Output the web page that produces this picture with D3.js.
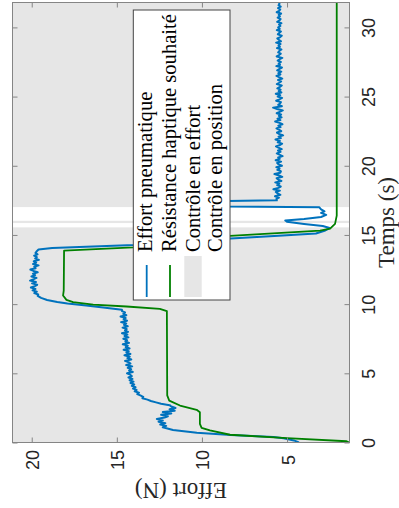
<!DOCTYPE html>
<html><head><meta charset="utf-8">
<script src="https://cdn.jsdelivr.net/npm/d3@7"></script>
<style>body{margin:0;background:#fff} svg{display:block}</style>
</head><body>
<script>
// ---------- data ----------
const timeTicks = [0, 5, 10, 15, 20, 25, 30];
const effortTicks = [5, 10, 15, 20];
const legendLabels = ["Effort pneumatique", "Résistance haptique souhaité", "Contrôle en effort", "Contrôle en position"];
const xLabel = "Temps (s)";
const yLabel = "Effort (N)";
const timeDomain = [0, 31.8];
const effortDomain = [1.33, 21.13];

// control mode intervals (s)
const effortControl = [[0, 15.56], [15.85, 16.04], [17.0, 31.8]];
const positionControl = [[15.56, 15.85], [16.04, 17.0]];

// desired haptic resistance (green)
const greenT = [0, 0.09, 0.31, 0.56, 0.87, 1.06, 1.35, 2.19, 2.36, 2.67, 3.03, 3.4, 9.5, 9.66, 9.83, 9.97, 10.14, 10.31, 10.62, 10.98, 13.87, 14.1, 14.5, 14.93, 15.32, 15.46, 15.8, 16.4, 31.8];
const greenE = [1.35, 1.5, 5.0, 8.35, 9.53, 10.02, 10.12, 10.12, 10.31, 11.29, 11.92, 12.04, 12.06, 12.47, 14.43, 16.39, 17.57, 17.96, 18.16, 18.12, 18.1, 14.04, 11.2, 8.35, 3.06, 2.47, 2.18, 2.08, 2.08];

// pneumatic effort (blue), sampled every 0.1 s on plateaus
const sampleStep = 0.1;
const blueRiseT = [0, 0.15, 0.3, 0.4, 0.54, 0.71, 0.9, 1.1, 1.2, 1.3, 1.4, 1.5, 1.6, 1.7, 1.8, 1.9, 2.0, 2.1, 2.2, 2.3, 2.4, 2.5, 2.6, 2.7, 2.8, 2.9, 3.0, 3.1, 3.2, 3.3];
const blueRiseE = [4.3, 4.6, 5.2, 5.8, 8.3, 10.3, 11.7, 12.3, 12.1, 12.45, 12.15, 12.55, 12.3, 12.65, 12.2, 12.0, 12.4, 11.8, 12.3, 11.6, 11.9, 11.55, 11.8, 11.9, 12.4, 12.7, 13.0, 13.2, 13.5, 13.45];
const blueHold1Start = 3.4;
const blueHold1E = [
  13.62, 13.80, 13.70, 13.95, 13.84, 14.05, 13.90, 14.12, 13.98, 14.20,
  14.02, 14.25, 14.08, 14.32, 14.12, 14.22, 14.40, 14.06, 14.28, 14.16,
  14.36, 14.10, 14.45, 14.20, 14.30, 14.52, 14.15, 14.38, 14.24, 14.55,
  14.20, 14.44, 14.30, 14.60, 14.25, 14.48, 14.36, 14.65, 14.28, 14.50,
  14.40, 14.62, 14.32, 14.55, 14.38, 14.70, 14.34, 14.52, 14.42, 14.66,
  14.36, 14.58, 14.45, 14.75, 14.40, 14.60, 14.48, 14.78, 14.44, 14.62,
  14.52, 14.70];
const blueStep2T = [9.6, 9.75, 9.9, 10.05, 10.15, 10.3, 10.45, 10.6];
const blueStep2E = [14.7, 15.8, 16.8, 17.9, 18.5, 19.1, 19.45, 19.65];
const blueHold2Start = 10.7;
const blueHold2E = [
  19.62, 19.85, 19.70, 19.95, 19.78, 20.05, 19.82, 19.68, 19.98, 19.75,
  20.10, 19.88, 19.72, 20.02, 19.80, 19.93, 19.65, 19.90, 20.08, 19.77,
  19.85, 19.60, 19.92, 19.74, 19.88, 19.58, 19.80, 19.70, 19.86, 19.66,
  19.78, 19.72];
const blueDropT = [13.95, 14.05, 14.15, 14.27, 14.5, 14.75, 14.95, 15.1, 15.3, 15.5, 15.65, 15.8, 15.95, 16.05, 16.15, 16.3, 16.45, 16.6, 16.7, 16.85, 17.0, 17.05, 17.15, 17.3, 17.45, 17.5];
const blueDropE = [19.6, 18.8, 16.8, 14.0, 11.0, 8.3, 5.5, 3.3, 2.8, 2.5, 2.9, 4.0, 5.0, 5.1, 4.0, 3.0, 2.7, 3.0, 2.8, 3.0, 3.1, 8.5, 10.5, 10.5, 8.5, 5.6];
const blueHold3Start = 17.6;
const blueHold3E = [
  5.62, 5.48, 5.71, 5.39, 5.55, 5.66, 5.42, 5.80, 5.51, 5.37,
  5.58, 5.45, 5.69, 5.33, 5.52, 5.61, 5.28, 5.47, 5.74, 5.40,
  5.36, 5.57, 5.44, 5.63, 5.30, 5.49, 5.58, 5.35, 5.67, 5.43,
  5.52, 5.26, 5.45, 5.60, 5.38, 5.53, 5.31, 5.48, 5.65, 5.41,
  5.29, 5.55, 5.42, 5.68, 5.36, 5.50, 5.23, 5.47, 5.59, 5.34,
  5.46, 5.62, 5.38, 5.51, 5.27, 5.44, 5.70, 5.39, 5.56, 5.32,
  5.48, 5.35, 5.61, 5.43, 5.25, 5.58, 5.82, 5.30, 5.52, 5.41,
  5.36, 5.64, 5.45, 5.29, 5.55, 5.40, 5.66, 5.33, 5.49, 5.38,
  5.57, 5.42, 5.31, 5.60, 5.46, 5.35, 5.53, 5.28, 5.47, 5.62,
  5.39, 5.51, 5.34, 5.58, 5.44, 5.30, 5.63, 5.41, 5.49, 5.36,
  5.55, 5.43, 5.28, 5.61, 5.47, 5.37, 5.52, 5.45, 5.33, 5.59,
  5.42, 5.50, 5.38, 5.64, 5.35, 5.48, 5.57, 5.40, 5.31, 5.54,
  5.46, 5.36, 5.60, 5.43, 5.52, 5.39, 5.47, 5.33, 5.58, 5.44,
  5.38, 5.55, 5.42, 5.49, 5.35, 5.61, 5.46, 5.40, 5.53, 5.37,
  5.50, 5.44, 5.48];

// ---------- assemble series ----------
const zip = (T, E) => T.map((t, i) => ({ t, e: E[i] }));
const sampled = (t0, E) => E.map((e, i) => ({ t: +(t0 + i * sampleStep).toFixed(3), e }));
const greenData = zip(greenT, greenE);
const blueData = [].concat(
  zip(blueRiseT, blueRiseE),
  sampled(blueHold1Start, blueHold1E),
  zip(blueStep2T, blueStep2E),
  sampled(blueHold2Start, blueHold2E),
  zip(blueDropT, blueDropE),
  sampled(blueHold3Start, blueHold3E)
);

// ---------- layout ----------
const W = 399, H = 508;
const plot = { left: 12.5, right: 349.5, top: 2.5, bottom: 442.5 };
const C = { blue: "#0072BD", green: "#008000", bg: "#e6e6e6", axis: "#858585", text: "#262626" };

const svg = d3.select("body").append("svg").attr("width", W).attr("height", H);

// effort -> horizontal (increasing to the left), time -> vertical (increasing upward)
const x = d3.scaleLinear().domain([effortDomain[1], effortDomain[0]]).range([plot.left, plot.right]);
const y = d3.scaleLinear().domain(timeDomain).range([plot.bottom, plot.top]);

svg.append("defs").append("clipPath").attr("id", "clip")
  .append("rect").attr("x", plot.left).attr("y", plot.top)
  .attr("width", plot.right - plot.left).attr("height", plot.bottom - plot.top);

const g = svg.append("g").attr("clip-path", "url(#clip)");
g.append("rect").attr("x", plot.left).attr("y", plot.top)
  .attr("width", plot.right - plot.left).attr("height", plot.bottom - plot.top).attr("fill", "#fff");
g.selectAll("rect.eff").data(effortControl).join("rect").attr("class", "eff")
  .attr("x", plot.left).attr("width", plot.right - plot.left)
  .attr("y", d => y(d[1])).attr("height", d => y(d[0]) - y(d[1]))
  .attr("fill", C.bg);
g.selectAll("rect.pos").data(positionControl).join("rect").attr("class", "pos")
  .attr("x", plot.left).attr("width", plot.right - plot.left)
  .attr("y", d => y(d[1])).attr("height", d => y(d[0]) - y(d[1]))
  .attr("fill", "#fff");

const line = d3.line().x(d => x(d.e)).y(d => y(d.t));
g.append("path").datum(blueData).attr("d", line).attr("fill", "none")
  .attr("stroke", C.blue).attr("stroke-width", 2).attr("stroke-linejoin", "round");
g.append("path").datum(greenData).attr("d", line).attr("fill", "none")
  .attr("stroke", C.green).attr("stroke-width", 1.8).attr("stroke-linejoin", "round");

// ---------- axes ----------
const styleAxis = sel => {
  sel.select(".domain").remove();
  sel.selectAll(".tick line").attr("stroke", C.axis);
  sel.selectAll("text").attr("fill", C.text).attr("font-family", "'Liberation Sans', Arial, sans-serif").attr("font-size", 18);
};
// time axis (right) with labels
const axR = svg.append("g").attr("transform", `translate(${plot.right},0)`)
  .call(d3.axisRight(y).tickValues(timeTicks).tickSize(-5).tickFormat(d3.format("d")));
styleAxis(axR);
axR.selectAll("text").attr("x", 0).attr("dy", 0).attr("text-anchor", "middle")
  .attr("transform", "translate(25.5,0) rotate(-90)");
// mirrored ticks (left)
const axL = svg.append("g").attr("transform", `translate(${plot.left},0)`)
  .call(d3.axisLeft(y).tickValues(timeTicks).tickSize(-5).tickFormat(""));
styleAxis(axL);
// effort axis (bottom) with labels
const axB = svg.append("g").attr("transform", `translate(0,${plot.bottom})`)
  .call(d3.axisBottom(x).tickValues(effortTicks).tickSize(-5).tickFormat(d3.format("d")));
styleAxis(axB);
axB.selectAll("text").attr("x", 0).attr("y", 0).attr("dy", 0).attr("text-anchor", "middle")
  .attr("transform", "translate(7,17.5) rotate(-90)");
// mirrored ticks (top)
const axT = svg.append("g").attr("transform", `translate(0,${plot.top})`)
  .call(d3.axisTop(x).tickValues(effortTicks).tickSize(-5).tickFormat(""));
styleAxis(axT);

svg.append("rect").attr("x", plot.left).attr("y", plot.top)
  .attr("width", plot.right - plot.left).attr("height", plot.bottom - plot.top)
  .attr("fill", "none").attr("stroke", C.axis).attr("stroke-width", 1);

// axis labels
const serif = "'Liberation Serif', 'Times New Roman', serif";
svg.append("text").text(xLabel).attr("font-family", serif).attr("font-size", 23).attr("fill", C.text)
  .attr("text-anchor", "middle")
  .attr("transform", `translate(394,${(plot.top + plot.bottom) / 2}) rotate(-90)`);
svg.append("text").text(yLabel).attr("font-family", serif).attr("font-size", 23).attr("fill", C.text)
  .attr("text-anchor", "middle")
  .attr("transform", `translate(${(plot.left + plot.right) / 2},483) rotate(180)`);

// ---------- legend ----------
const lg = svg.append("g");
lg.append("rect").attr("x", 133.3).attr("y", 10).attr("width", 96.7).attr("height", 290)
  .attr("fill", "#fff").attr("stroke", "#444").attr("stroke-width", 1);
const baseX = [152.3, 176, 199.5, 221.8];
lg.selectAll("text").data(legendLabels).join("text")
  .text(d => d).attr("font-family", serif).attr("font-size", 20.6).attr("fill", "#000")
  .attr("transform", (d, i) => `translate(${baseX[i]},252) rotate(-90)`);
lg.append("line").attr("x1", 146.7).attr("x2", 146.7).attr("y1", 265).attr("y2", 297)
  .attr("stroke", C.blue).attr("stroke-width", 1.8);
lg.append("line").attr("x1", 170).attr("x2", 170).attr("y1", 265).attr("y2", 297)
  .attr("stroke", C.green).attr("stroke-width", 1.8);
lg.append("rect").attr("x", 184.3).attr("y", 256).attr("width", 17.4).attr("height", 41)
  .attr("fill", C.bg);
</script>
</body></html>
